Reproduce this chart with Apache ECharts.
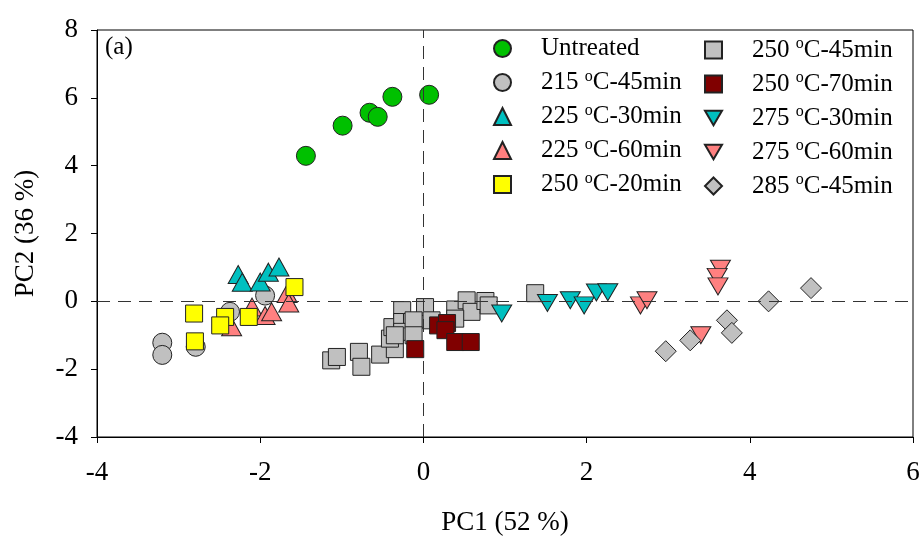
<!DOCTYPE html>
<html>
<head>
<meta charset="utf-8">
<script src="https://cdn.jsdelivr.net/npm/echarts@6/dist/echarts.min.js"></script>
<style>
  html, body { margin: 0; padding: 0; background: #fff; }
  #pcaChart { width: 924px; height: 541px; }
</style>
</head>
<body>
<div id="pcaChart"></div>
<script>
// PCA scores, [PC1, PC2]
var untreatedPts = [[-1.44, 4.29], [-0.99, 5.18], [-0.66, 5.56], [-0.56, 5.44], [-0.38, 6.03], [0.07, 6.09]];
var t215m45Pts = [[-3.20, -1.22], [-3.20, -1.58], [-2.79, -1.34], [-2.37, -0.31], [-1.94, 0.17]];
var t225m30Pts = [[-2.27, 0.79], [-2.22, 0.56], [-2.00, 0.57], [-1.90, 0.86], [-1.77, 1.01]];
var t225m60Pts = [[-2.35, -0.75], [-2.10, -0.17], [-1.94, -0.42], [-1.86, -0.31], [-1.67, 0.23], [-1.65, -0.05]];
var t250m20Pts = [[-2.81, -0.36], [-2.80, -1.18], [-2.43, -0.46], [-2.49, -0.71], [-2.14, -0.46], [-1.58, 0.42]];
var t250m45Pts = [[-1.13, -1.74], [-1.06, -1.64], [-0.79, -1.49], [-0.76, -1.93], [-0.53, -1.57], [-0.35, -1.41],
  [-0.41, -1.10], [-0.38, -0.76], [-0.26, -0.26], [-0.26, -0.61], [-0.14, -0.61], [-0.26, -0.90], [-0.35, -1.00],
  [0.02, -0.17], [-0.12, -0.56], [-0.12, -1.00], [0.10, -0.56], [0.39, -0.24], [0.53, 0.03], [0.59, -0.31],
  [0.39, -0.51], [0.76, 0.01], [0.80, -0.12], [1.37, 0.24]];
var t250m70Pts = [[-0.10, -1.41], [0.18, -0.71], [0.29, -0.64], [0.27, -0.85], [0.39, -1.20], [0.58, -1.20]];
var t275m30Pts = [[0.96, -0.36], [1.52, -0.05], [1.80, 0.03], [1.97, -0.12], [2.12, 0.26], [2.26, 0.27]];
var t275m60Pts = [[2.66, -0.12], [2.74, 0.03], [3.64, 0.96], [3.60, 0.72], [3.61, 0.44], [3.40, -1.00]];
var t285m45Pts = [[2.97, -1.47], [3.27, -1.15], [3.72, -0.56], [3.78, -0.93], [4.23, 0.00], [4.75, 0.39]];

var groupNames = ['Untreated', '215 °C-45min', '225 °C-30min', '225 °C-60min', '250 °C-20min',
  '250 °C-45min', '250 °C-70min', '275 °C-30min', '275 °C-60min', '285 °C-45min'];
var groupData = [untreatedPts, t215m45Pts, t225m30Pts, t225m60Pts, t250m20Pts,
  t250m45Pts, t250m70Pts, t275m30Pts, t275m60Pts, t285m45Pts];

var xTicks = [-4, -2, 0, 2, 4, 6];
var yTicks = [-4, -2, 0, 2, 4, 6, 8];

var downTri = 'path://M0,0L20,0L10,17Z';
var groupColors = ['#00c000', '#c0c0c0', '#00c0c0', '#ff8080', '#ffff00',
  '#c0c0c0', '#800000', '#00c0c0', '#ff8080', '#c0c0c0'];
var groupSymbols = ['circle', 'circle', 'triangle', 'triangle', 'rect',
  'rect', 'rect', downTri, downTri, 'diamond'];
var groupSizes = [19, 19, [20, 18], [20, 18], 17, 17, 17, [20, 17], [20, 17], [21, 21]];

var serifFont = '"Liberation Serif", "Times New Roman", serif';

var pcaChart = echarts.init(document.getElementById('pcaChart'));

var seriesList = [];
// dashed zero lines
seriesList.push({
  type: 'scatter',
  data: [],
  z: 1,
  silent: true,
  markLine: {
    silent: true,
    symbol: ['none', 'none'],
    label: { show: false },
    lineStyle: { color: '#333', type: [13, 8], width: 1 },
    data: [{ xAxis: 0 }, { yAxis: 0 }]
  }
});
for (var i = 0; i < groupNames.length; i++) {
  seriesList.push({
    name: groupNames[i],
    type: 'scatter',
    z: 2,
    symbol: groupSymbols[i],
    symbolSize: groupSizes[i],
    data: groupData[i],
    itemStyle: {
      color: groupColors[i],
      borderColor: '#222',
      borderWidth: 1,
      opacity: 1
    }
  });
}

var legendText = {
  fontFamily: serifFont,
  fontSize: 25,
  color: '#000',
  rich: {
    g: { width: 25 },
    s: { fontFamily: serifFont, fontSize: 16, color: '#000', padding: [0, 0, 12, 0] },
    t: { fontFamily: serifFont, fontSize: 25, color: '#000' }
  }
};
var legendFmt = function (name) {
  var p = name.split('°');
  if (p.length < 2) return '{g|}{t|' + name + '}';
  return '{g|}{t|' + p[0] + '}{s|o}{t|' + p[1] + '}';
};

var pcaOption = {
  backgroundColor: '#fff',
  animation: false,
  grid: {
    left: 97,
    right: 11,
    top: 30,
    bottom: 103,
    show: true,
    borderColor: '#000',
    borderWidth: 1
  },
  legend: [
    {
      data: groupNames.slice(0, 5),
      orient: 'vertical',
      left: 488,
      top: 31,
      itemWidth: 17,
      itemHeight: 17,
      itemGap: 7.5,
      formatter: legendFmt,
      textStyle: legendText,
      selectedMode: false
    },
    {
      data: groupNames.slice(5),
      orient: 'vertical',
      left: 699,
      top: 31,
      itemWidth: 17,
      itemHeight: 17,
      itemGap: 7.5,
      formatter: legendFmt,
      textStyle: legendText,
      selectedMode: false
    }
  ],
  graphic: [{
    type: 'text',
    left: 105,
    top: 35,
    style: { text: '(a)', fontFamily: serifFont, fontSize: 25, fill: '#000' }
  }],
  xAxis: {
    type: 'value',
    min: xTicks[0],
    max: xTicks[xTicks.length - 1],
    interval: 2,
    name: 'PC1 (52 %)',
    nameLocation: 'middle',
    nameGap: 72,
    nameTextStyle: { fontFamily: serifFont, fontSize: 27, color: '#000' },
    axisLine: { show: true, onZero: false, lineStyle: { color: '#000', width: 1 } },
    axisTick: { show: true, inside: false, length: 6, lineStyle: { color: '#000' } },
    axisLabel: { fontFamily: serifFont, fontSize: 27, color: '#000', margin: 22 },
    splitLine: { show: false }
  },
  yAxis: {
    type: 'value',
    min: yTicks[0],
    max: yTicks[yTicks.length - 1],
    interval: 2,
    name: 'PC2 (36 %)',
    nameLocation: 'middle',
    nameGap: 58,
    nameTextStyle: { fontFamily: serifFont, fontSize: 27, color: '#000' },
    axisLine: { show: true, onZero: false, lineStyle: { color: '#000', width: 1 } },
    axisTick: { show: true, inside: false, length: 6, lineStyle: { color: '#000' } },
    axisLabel: { fontFamily: serifFont, fontSize: 27, color: '#000', margin: 19 },
    splitLine: { show: false }
  },
  series: seriesList
};
pcaChart.setOption(pcaOption);
</script>
</body>
</html>
